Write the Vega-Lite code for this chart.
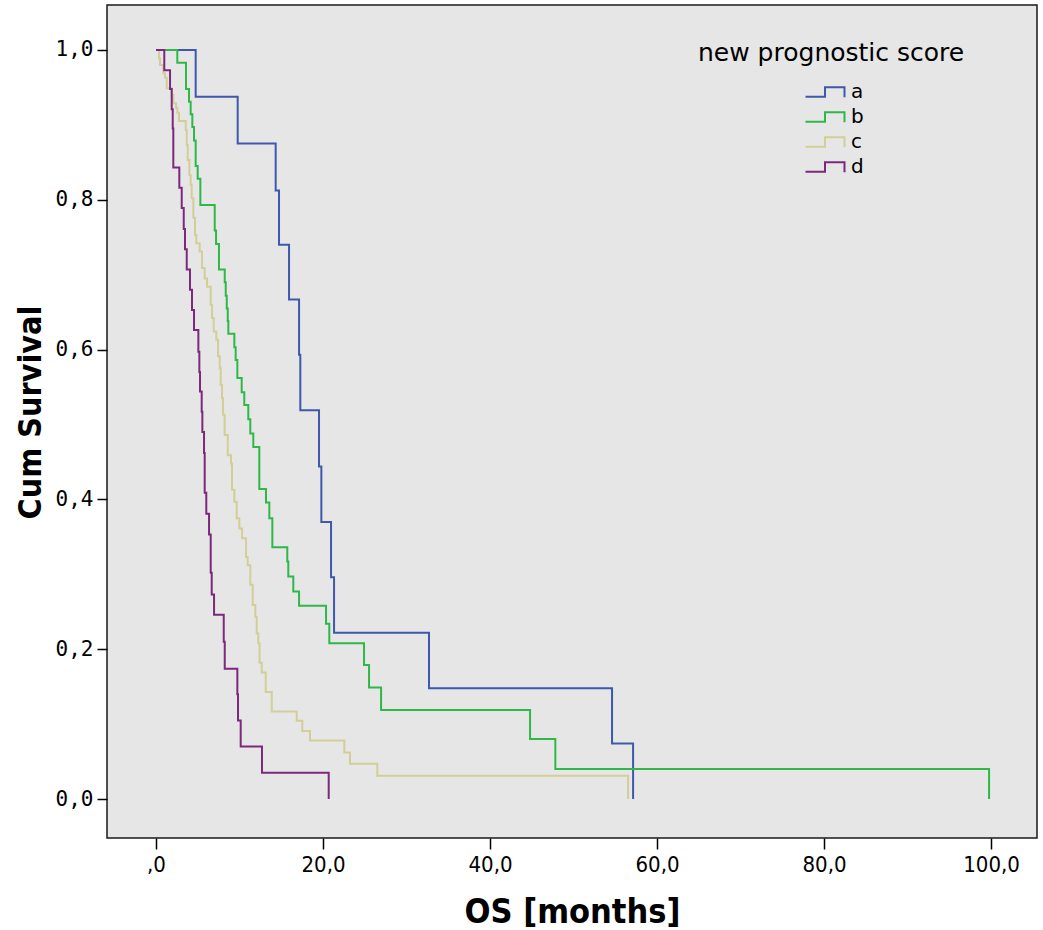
{
  "$schema": "https://vega.github.io/schema/vega-lite/v6.json",
  "width": 930,
  "height": 833,
  "autosize": {"type": "none"},
  "padding": {"left": 107, "top": 5, "right": 6, "bottom": 92},
  "background": "white",
  "config": {
    "view": {"fill": "#e6e6e6", "stroke": "#1a1a1a", "strokeWidth": 1.5}
  },
  "data": {
    "values": [
      {"g": "a", "t": 0, "s": 1},
      {"g": "a", "t": 4.75, "s": 0.9375},
      {"g": "a", "t": 9.78, "s": 0.875},
      {"g": "a", "t": 14.33, "s": 0.8125},
      {"g": "a", "t": 14.73, "s": 0.74},
      {"g": "a", "t": 15.93, "s": 0.667},
      {"g": "a", "t": 17.13, "s": 0.593},
      {"g": "a", "t": 17.28, "s": 0.519},
      {"g": "a", "t": 19.52, "s": 0.444},
      {"g": "a", "t": 19.8, "s": 0.37},
      {"g": "a", "t": 20.96, "s": 0.296},
      {"g": "a", "t": 21.32, "s": 0.222},
      {"g": "a", "t": 32.69, "s": 0.148},
      {"g": "a", "t": 54.61, "s": 0.074},
      {"g": "a", "t": 57.13, "s": 0},

      {"g": "b", "t": 0, "s": 1},
      {"g": "b", "t": 2.55, "s": 0.983},
      {"g": "b", "t": 3.59, "s": 0.948},
      {"g": "b", "t": 3.95, "s": 0.931},
      {"g": "b", "t": 4.15, "s": 0.914},
      {"g": "b", "t": 4.35, "s": 0.897},
      {"g": "b", "t": 4.55, "s": 0.879},
      {"g": "b", "t": 4.75, "s": 0.845},
      {"g": "b", "t": 4.99, "s": 0.828},
      {"g": "b", "t": 5.31, "s": 0.793},
      {"g": "b", "t": 7.03, "s": 0.759},
      {"g": "b", "t": 7.19, "s": 0.741},
      {"g": "b", "t": 7.54, "s": 0.707},
      {"g": "b", "t": 8.23, "s": 0.69},
      {"g": "b", "t": 8.35, "s": 0.672},
      {"g": "b", "t": 8.47, "s": 0.655},
      {"g": "b", "t": 8.59, "s": 0.638},
      {"g": "b", "t": 8.66, "s": 0.621},
      {"g": "b", "t": 9.38, "s": 0.603},
      {"g": "b", "t": 9.54, "s": 0.586},
      {"g": "b", "t": 9.74, "s": 0.562},
      {"g": "b", "t": 10.26, "s": 0.543},
      {"g": "b", "t": 10.57, "s": 0.526},
      {"g": "b", "t": 11.05, "s": 0.507},
      {"g": "b", "t": 11.29, "s": 0.488},
      {"g": "b", "t": 11.65, "s": 0.47},
      {"g": "b", "t": 12.37, "s": 0.414},
      {"g": "b", "t": 13.17, "s": 0.396},
      {"g": "b", "t": 13.57, "s": 0.375},
      {"g": "b", "t": 13.93, "s": 0.336},
      {"g": "b", "t": 15.72, "s": 0.317},
      {"g": "b", "t": 15.84, "s": 0.297},
      {"g": "b", "t": 16.44, "s": 0.277},
      {"g": "b", "t": 17.13, "s": 0.258},
      {"g": "b", "t": 20.36, "s": 0.234},
      {"g": "b", "t": 20.75, "s": 0.208},
      {"g": "b", "t": 24.91, "s": 0.179},
      {"g": "b", "t": 25.51, "s": 0.149},
      {"g": "b", "t": 26.95, "s": 0.119},
      {"g": "b", "t": 44.79, "s": 0.08},
      {"g": "b", "t": 47.82, "s": 0.04},
      {"g": "b", "t": 99.76, "s": 0},

      {"g": "c", "t": 0, "s": 1},
      {"g": "c", "t": 0.36, "s": 0.989},
      {"g": "c", "t": 0.48, "s": 0.98},
      {"g": "c", "t": 0.87, "s": 0.969},
      {"g": "c", "t": 1.08, "s": 0.963},
      {"g": "c", "t": 1.28, "s": 0.949},
      {"g": "c", "t": 1.88, "s": 0.94},
      {"g": "c", "t": 2.07, "s": 0.929},
      {"g": "c", "t": 2.4, "s": 0.923},
      {"g": "c", "t": 2.55, "s": 0.916},
      {"g": "c", "t": 2.75, "s": 0.905},
      {"g": "c", "t": 3.56, "s": 0.893},
      {"g": "c", "t": 3.68, "s": 0.873},
      {"g": "c", "t": 3.8, "s": 0.853},
      {"g": "c", "t": 3.99, "s": 0.833},
      {"g": "c", "t": 4.15, "s": 0.82},
      {"g": "c", "t": 4.27, "s": 0.802},
      {"g": "c", "t": 4.47, "s": 0.776},
      {"g": "c", "t": 4.67, "s": 0.753},
      {"g": "c", "t": 4.83, "s": 0.742},
      {"g": "c", "t": 5.23, "s": 0.731},
      {"g": "c", "t": 5.51, "s": 0.709},
      {"g": "c", "t": 5.83, "s": 0.695},
      {"g": "c", "t": 6.11, "s": 0.684},
      {"g": "c", "t": 6.55, "s": 0.66},
      {"g": "c", "t": 6.71, "s": 0.642},
      {"g": "c", "t": 6.91, "s": 0.624},
      {"g": "c", "t": 7.22, "s": 0.613},
      {"g": "c", "t": 7.43, "s": 0.591},
      {"g": "c", "t": 7.63, "s": 0.575},
      {"g": "c", "t": 7.75, "s": 0.553},
      {"g": "c", "t": 7.9, "s": 0.535},
      {"g": "c", "t": 8.02, "s": 0.513},
      {"g": "c", "t": 8.22, "s": 0.486},
      {"g": "c", "t": 8.59, "s": 0.459},
      {"g": "c", "t": 8.98, "s": 0.448},
      {"g": "c", "t": 9.1, "s": 0.413},
      {"g": "c", "t": 9.38, "s": 0.397},
      {"g": "c", "t": 9.66, "s": 0.375},
      {"g": "c", "t": 9.98, "s": 0.361},
      {"g": "c", "t": 10.3, "s": 0.348},
      {"g": "c", "t": 10.78, "s": 0.323},
      {"g": "c", "t": 10.98, "s": 0.312},
      {"g": "c", "t": 11.29, "s": 0.286},
      {"g": "c", "t": 11.58, "s": 0.259},
      {"g": "c", "t": 11.89, "s": 0.243},
      {"g": "c", "t": 12.06, "s": 0.221},
      {"g": "c", "t": 12.25, "s": 0.208},
      {"g": "c", "t": 12.4, "s": 0.182},
      {"g": "c", "t": 12.66, "s": 0.169},
      {"g": "c", "t": 13.14, "s": 0.143},
      {"g": "c", "t": 13.86, "s": 0.117},
      {"g": "c", "t": 16.85, "s": 0.1045},
      {"g": "c", "t": 17.52, "s": 0.091},
      {"g": "c", "t": 18.44, "s": 0.078},
      {"g": "c", "t": 22.55, "s": 0.062},
      {"g": "c", "t": 23.23, "s": 0.047},
      {"g": "c", "t": 26.5, "s": 0.031},
      {"g": "c", "t": 56.53, "s": 0},

      {"g": "d", "t": 0, "s": 1},
      {"g": "d", "t": 0.99, "s": 0.973},
      {"g": "d", "t": 1.68, "s": 0.948},
      {"g": "d", "t": 1.88, "s": 0.921},
      {"g": "d", "t": 2.0, "s": 0.895},
      {"g": "d", "t": 2.07, "s": 0.843},
      {"g": "d", "t": 2.79, "s": 0.816},
      {"g": "d", "t": 3.08, "s": 0.789},
      {"g": "d", "t": 3.32, "s": 0.761},
      {"g": "d", "t": 3.47, "s": 0.734},
      {"g": "d", "t": 3.68, "s": 0.707},
      {"g": "d", "t": 4.07, "s": 0.68},
      {"g": "d", "t": 4.31, "s": 0.653},
      {"g": "d", "t": 4.55, "s": 0.626},
      {"g": "d", "t": 5.07, "s": 0.597},
      {"g": "d", "t": 5.19, "s": 0.57},
      {"g": "d", "t": 5.27, "s": 0.544},
      {"g": "d", "t": 5.47, "s": 0.517},
      {"g": "d", "t": 5.55, "s": 0.49},
      {"g": "d", "t": 5.75, "s": 0.462},
      {"g": "d", "t": 5.83, "s": 0.409},
      {"g": "d", "t": 6.02, "s": 0.381},
      {"g": "d", "t": 6.35, "s": 0.353},
      {"g": "d", "t": 6.55, "s": 0.302},
      {"g": "d", "t": 6.67, "s": 0.273},
      {"g": "d", "t": 6.95, "s": 0.246},
      {"g": "d", "t": 8.11, "s": 0.21},
      {"g": "d", "t": 8.23, "s": 0.174},
      {"g": "d", "t": 9.74, "s": 0.14},
      {"g": "d", "t": 9.82, "s": 0.105},
      {"g": "d", "t": 10.14, "s": 0.07},
      {"g": "d", "t": 12.69, "s": 0.035},
      {"g": "d", "t": 20.68, "s": 0}
    ]
  },
  "mark": {"type": "line", "interpolate": "step-after", "strokeWidth": 2, "clip": true},
  "encoding": {
    "x": {
      "field": "t",
      "type": "quantitative",
      "scale": {"domain": [-5.87, 105.5], "nice": false, "zero": false},
      "axis": {
        "values": [0, 20, 40, 60, 80, 100],
        "labelExpr": "datum.value == 0 ? ',0' : replace(format(datum.value, '.1f'), '.', ',')",
        "title": "OS [months]",
        "grid": false,
        "domain": false,
        "tickColor": "#000",
        "tickWidth": 1.5,
        "tickSize": 11,
        "labelFont": "DejaVu Sans Condensed, Liberation Sans Narrow, DejaVu Sans",
        "labelFontSize": 22,
        "labelColor": "#000",
        "labelPadding": 5,
        "titleFont": "DejaVu Sans Condensed, Liberation Sans Narrow, DejaVu Sans",
        "titleFontSize": 34,
        "titleFontWeight": "bold",
        "titleColor": "#000",
        "titlePadding": 20
      }
    },
    "y": {
      "field": "s",
      "type": "quantitative",
      "scale": {"domain": [-0.052, 1.06], "nice": false, "zero": false},
      "axis": {
        "values": [0, 0.2, 0.4, 0.6, 0.8, 1],
        "labelExpr": "replace(format(datum.value, '.1f'), '.', ',')",
        "title": "Cum Survival",
        "grid": false,
        "domain": false,
        "tickColor": "#000",
        "tickWidth": 1.5,
        "tickSize": 10,
        "labelFont": "DejaVu Sans Mono, DejaVu Sans",
        "labelFontSize": 21,
        "labelColor": "#000",
        "labelPadding": 4,
        "titleFont": "DejaVu Sans Condensed, Liberation Sans Narrow, DejaVu Sans",
        "titleFontSize": 32,
        "titleFontWeight": "bold",
        "titleColor": "#000",
        "titleX": -60,
        "titleY": 407
      }
    },
    "color": {
      "field": "g",
      "type": "nominal",
      "scale": {"domain": ["a", "b", "c", "d"], "range": ["#3E58AC", "#2EB848", "#D3CE97", "#7C287D"]},
      "legend": {
        "title": "new prognostic score",
        "orient": "none",
        "legendX": 591,
        "legendY": 36,
        "padding": 0,
        "titleFont": "DejaVu Sans",
        "titleFontSize": 25,
        "titleFontWeight": "normal",
        "titleColor": "#000",
        "titleLimit": 500,
        "titlePadding": 15,
        "symbolType": "M-2,0.5H0V-0.5H2V0.55",
        "symbolSize": 380,
        "symbolStrokeWidth": 2,
        "symbolFillColor": "transparent",
        "symbolOffset": 116,
        "labelOffset": 15,
        "labelFont": "DejaVu Sans",
        "labelFontSize": 20,
        "labelColor": "#000",
        "rowPadding": 4
      }
    }
  }
}
